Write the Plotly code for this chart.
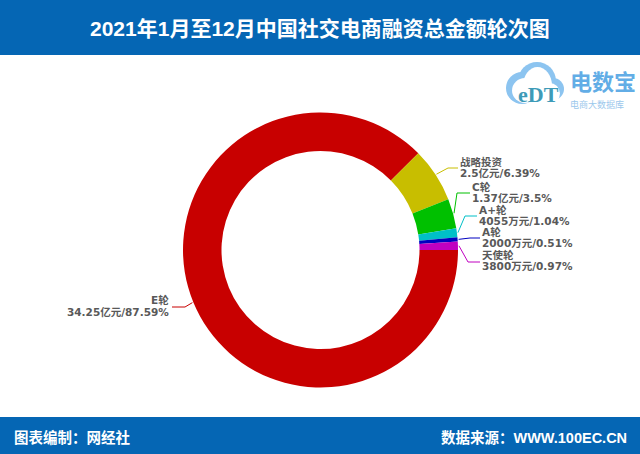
import math
import plotly.graph_objects as go

title = "2021年1月至12月中国社交电商融资总金额轮次图"
footer_left = "图表编制：网经社"
footer_right = "数据来源：WWW.100EC.CN"
categories = ["E轮", "战略投资", "C轮", "A+轮", "A轮", "天使轮"]
amounts = ["34.25亿元", "2.5亿元", "1.37亿元", "4055万元", "2000万元", "3800万元"]
percents = [87.59, 6.39, 3.5, 1.04, 0.51, 0.97]
colors = ["#C80000", "#C8BE00", "#00C000", "#00C0C8", "#0000C0", "#C000C0"]

W, H = 640, 454
CX, CY, R = 320.5, 250.0, 137.5
ROT = 90.0
FONT = "DejaVu Sans, Noto Sans CJK SC, sans-serif"
HEAD_FONT = "Liberation Sans, Noto Sans CJK SC, sans-serif"
GREY = "#595959"

# leader elbow, leader end, text anchor x, first-line y, second-line y
label_pos = [
    ((185, 307), (172, 307), 169, 300, 312),
    ((448, 168), (458, 168), 460, 162, 173),
    ((457, 193), (470, 193), 472, 187, 198),
    ((465, 216), (477, 216), 479, 210, 221),
    ((470, 238), (480, 238), 482, 232, 243),
    ((468, 262), (480, 262), 482, 255, 266),
]


def px(x):
    return x / W


def py(y):
    return 1 - y / H


fig = go.Figure(go.Pie(
    labels=categories, values=percents, sort=False, direction="clockwise",
    rotation=ROT, hole=0.72, marker=dict(colors=colors, line=dict(width=0)),
    textinfo="none", hoverinfo="label+percent", showlegend=False,
    domain=dict(x=[px(CX - R), px(CX + R)], y=[py(CY + R), py(CY - R)]),
))

shapes = [
    dict(type="rect", xref="paper", yref="paper", x0=0, x1=1, y0=py(55), y1=1,
         fillcolor="#0566B4", line_width=0, layer="below"),
    dict(type="rect", xref="paper", yref="paper", x0=0, x1=1, y0=0, y1=py(417),
         fillcolor="#0566B4", line_width=0, layer="below"),
]


def circle(x0, y0, x1, y1, color):
    shapes.append(dict(type="circle", xref="paper", yref="paper", x0=px(x0), x1=px(x1),
                       y0=py(y1), y1=py(y0), fillcolor=color, line_width=0, layer="below"))


# logo cloud
circle(506, 72, 538, 104, "#8CC4F0")
circle(518, 62, 556, 100, "#8CC4F0")
circle(542, 78, 564, 100, "#8CC4F0")
circle(512, 78, 538, 103, "#FFFFFF")
circle(523, 67, 552, 104, "#FFFFFF")
circle(539, 83, 560, 104, "#FFFFFF")

annotations = []


def text(x, y, s, size=10.5, color=GREY, anchor="left", bold=True, family=FONT):
    annotations.append(dict(
        xref="paper", yref="paper", x=px(x), y=py(y), xanchor=anchor, yanchor="middle",
        text=f"<b>{s}</b>" if bold else s, showarrow=False, align=anchor,
        font=dict(size=size, color=color, family=family), borderpad=0, borderwidth=0,
    ))


text(320, 29, title, size=21, color="#FFFFFF", anchor="center", family=HEAD_FONT)
text(14, 437, footer_left, size=14.5, color="#FFFFFF", family=HEAD_FONT)
text(627, 437, footer_right, size=14.5, color="#FFFFFF", anchor="right", family=HEAD_FONT)
text(570, 83, "电数宝", size=22, color="#62ADE6", family=HEAD_FONT)
text(570, 104, "电商大数据库", size=9, color="#9CC8EC", bold=False, family=HEAD_FONT)
text(538, 94, "eDT", size=22, color="#3E9BB8", anchor="center", family="Liberation Serif")

cum = 0.0
total = sum(percents)
for i, cat in enumerate(categories):
    mid = ROT + (cum + percents[i] / 2) / total * 360
    cum += percents[i]
    a = math.radians(mid)
    sx = CX + (R + 1) * math.sin(a)
    sy = CY - (R + 1) * math.cos(a)
    elbow, end, tx, y1, y2 = label_pos[i]
    path = f"M {px(sx)} {py(sy)} L {px(elbow[0])} {py(elbow[1])} L {px(end[0])} {py(end[1])}"
    shapes.append(dict(type="path", xref="paper", yref="paper", path=path,
                       line=dict(color=colors[i], width=1)))
    anchor = "right" if i == 0 else "left"
    text(tx, y1, cat, anchor=anchor)
    text(tx, y2, f"{amounts[i]}/{percents[i]}%", anchor=anchor)

fig.update_layout(
    width=W, height=H, margin=dict(l=0, r=0, t=0, b=0, pad=0),
    paper_bgcolor="#FFFFFF", plot_bgcolor="#FFFFFF",
    shapes=shapes, annotations=annotations,
)
fig.write_html("out.html", config=dict(displayModeBar=False),
               post_script="document.body.style.margin='0';document.body.style.overflow='hidden';")
